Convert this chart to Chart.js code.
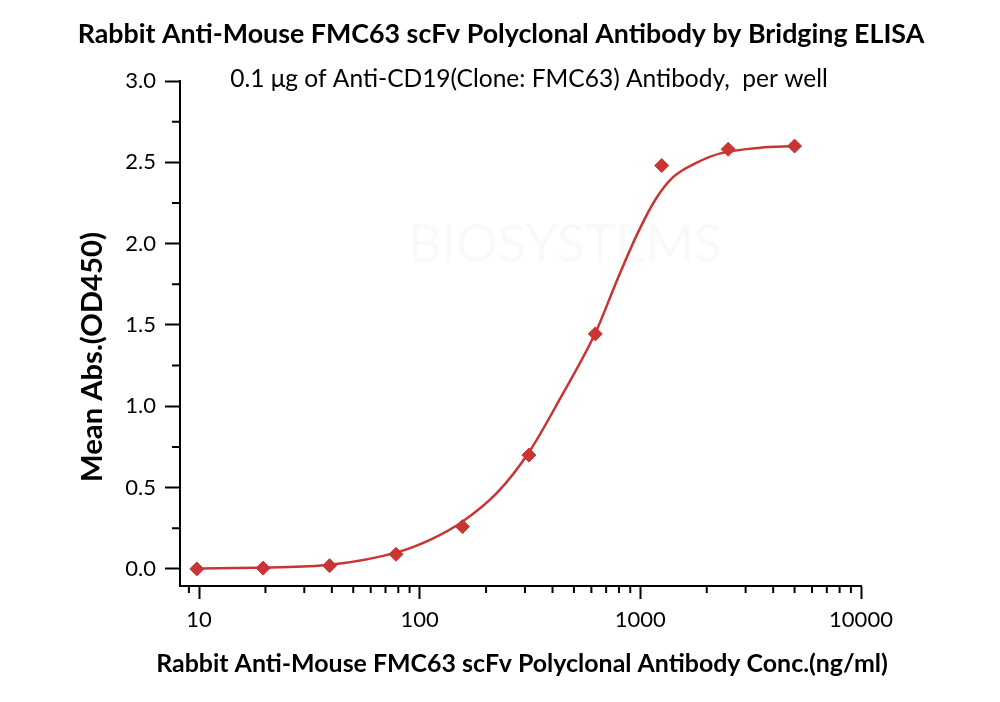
<!DOCTYPE html>
<html>
<head>
<meta charset="utf-8">
<script src="https://cdn.jsdelivr.net/npm/chart.js@4.4.1/dist/chart.umd.min.js"></script>
<style>
  body { margin: 0; background: #fff; }
  #wrap { width: 1000px; height: 702px; }
</style>
</head>
<body>
<div id="wrap"><canvas id="elisa"></canvas></div>
<script>
// measured points (ng/ml, OD450)
const concentrations = [9.77, 19.53, 39.06, 78.13, 156.25, 312.5, 625, 1250, 2500, 5000];
const meanAbs = [0.00, 0.005, 0.02, 0.09, 0.26, 0.70, 1.445, 2.48, 2.58, 2.60];

// fitted curve
const fitConc = [9.77, 19.7, 39.3, 78.2, 112, 156, 225, 317, 434, 625, 787, 969, 1169, 1411, 1814, 2306, 3500, 5000];
const fitAbs = [0.003, 0.008, 0.025, 0.10, 0.18, 0.29, 0.47, 0.73, 1.05, 1.45, 1.78, 2.06, 2.27, 2.41, 2.50, 2.555, 2.59, 2.60];

const xMajor = [10, 100, 1000, 10000];
const xMinor = [9, 20, 30, 40, 50, 60, 70, 80, 90, 200, 300, 400, 500, 600, 700, 800, 900,
                2000, 3000, 4000, 5000, 6000, 7000, 8000, 9000];
const yMajor = [0, 0.5, 1.0, 1.5, 2.0, 2.5, 3.0];
const yMinor = [0.25, 0.75, 1.25, 1.75, 2.25, 2.75];

const titleText = 'Rabbit Anti-Mouse FMC63 scFv Polyclonal Antibody by Bridging ELISA';
const subText = '0.1 \u03bcg of Anti-CD19(Clone: FMC63) Antibody,  per well';
const xTitle = 'Rabbit Anti-Mouse FMC63 scFv Polyclonal Antibody Conc.(ng/ml)';
const yTitle = 'Mean Abs.(OD450)';

const red = '#c93434';
const FONT = 'Lato, "Open Sans", sans-serif';

// text sized to the width it takes in the reference
function fitText(ctx, text, weight, width, x, y, rot) {
  ctx.save();
  ctx.font = weight + ' 100px ' + FONT;
  const size = 100 * width / ctx.measureText(text).width;
  ctx.font = weight + ' ' + size.toFixed(2) + 'px ' + FONT;
  ctx.fillStyle = '#000';
  ctx.textAlign = 'center';
  ctx.textBaseline = 'alphabetic';
  ctx.translate(x, y);
  if (rot) ctx.rotate(rot);
  ctx.fillText(text, 0, 0);
  ctx.restore();
}

const decorations = {
  id: 'decorations',
  beforeDraw(chart) {
    const ctx = chart.ctx;
    ctx.save();
    ctx.font = '52px ' + FONT;
    ctx.fillStyle = 'rgba(0,0,0,0.022)';
    ctx.textAlign = 'center';
    ctx.fillText('BIOSYSTEMS', 565, 262);
    ctx.restore();
  },
  afterDraw(chart) {
    const ctx = chart.ctx;
    const x = chart.scales.x, y = chart.scales.y;
    ctx.save();
    ctx.strokeStyle = '#000';
    ctx.lineWidth = 2;
    ctx.beginPath();
    xMinor.forEach(v => {
      const px = x.getPixelForValue(v);
      ctx.moveTo(px, x.top);
      ctx.lineTo(px, x.top + 7);
    });
    yMinor.forEach(v => {
      const py = y.getPixelForValue(v);
      ctx.moveTo(y.right, py);
      ctx.lineTo(y.right - 8, py);
    });
    ctx.stroke();
    ctx.restore();

    fitText(ctx, titleText, 'bold', 847, 501, 43);
    fitText(ctx, subText, 'normal', 598, 529, 87);
    fitText(ctx, xTitle, 'bold', 732, 522, 672);
    fitText(ctx, yTitle, 'bold', 250, 102, 357, -Math.PI / 2);
  }
};

const ctx = document.getElementById('elisa').getContext('2d');

new Chart(ctx, {
  type: 'scatter',
  data: {
    datasets: [{
      label: 'data',
      data: concentrations.map((c, i) => ({ x: c, y: meanAbs[i] })),
      pointStyle: 'rectRot',
      pointRadius: 7,
      pointBackgroundColor: red,
      pointBorderColor: red,
      showLine: false,
      order: 1
    }, {
      label: 'fit',
      data: fitConc.map((c, i) => ({ x: c, y: fitAbs[i] })),
      showLine: true,
      pointRadius: 0,
      borderColor: red,
      borderWidth: 2.5,
      cubicInterpolationMode: 'monotone',
      order: 2
    }]
  },
  options: {
    responsive: true,
    maintainAspectRatio: false,
    animation: false,
    layout: { padding: { left: 0, right: 139, top: 81, bottom: 0 } },
    plugins: {
      legend: { display: false },
      tooltip: { enabled: false }
    },
    scales: {
      x: {
        type: 'logarithmic',
        min: 8.2,
        max: 10000,
        afterBuildTicks: s => { s.ticks = xMajor.map(v => ({ value: v })); },
        afterFit: s => { s.height = 116; },
        ticks: {
          callback: v => String(v),
          color: '#000',
          font: { family: FONT, size: 22 },
          padding: 8,
          maxRotation: 0
        },
        grid: { drawOnChartArea: false, tickLength: 13, tickColor: '#000', tickWidth: 2 },
        border: { color: '#000', width: 2 }
      },
      y: {
        min: -0.105,
        max: 3.0,
        afterBuildTicks: s => { s.ticks = yMajor.map(v => ({ value: v })); },
        afterFit: s => { s.width = 180; },
        ticks: {
          callback: v => v.toFixed(1),
          color: '#000',
          font: { family: FONT, size: 22 },
          padding: 9
        },
        grid: { drawOnChartArea: false, tickLength: 15, tickColor: '#000', tickWidth: 2 },
        border: { color: '#000', width: 2 }
      }
    }
  },
  plugins: [decorations]
});
</script>
</body>
</html>
